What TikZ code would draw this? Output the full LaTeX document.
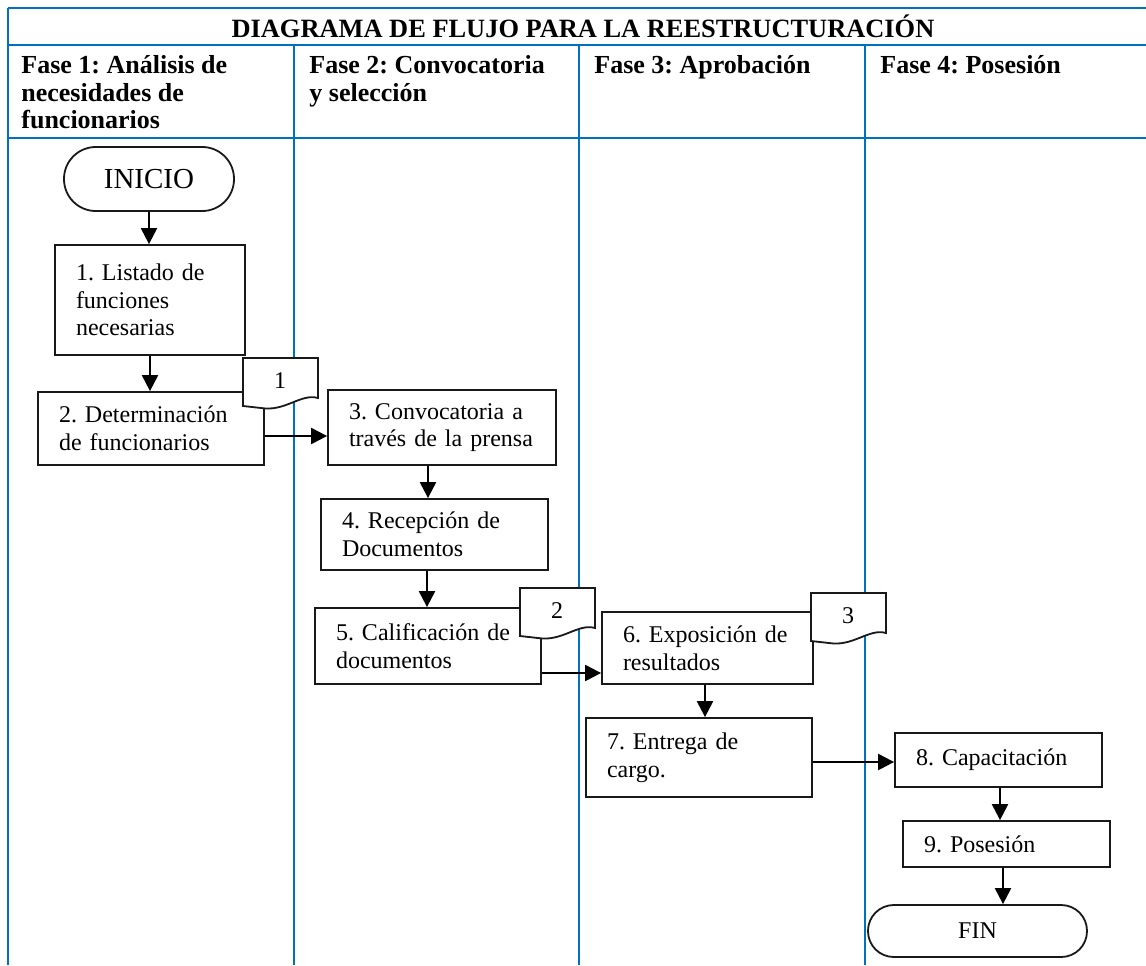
\documentclass[tikz,border=0pt]{standalone}
\usepackage{fontspec}
\setmainfont{Liberation Serif}
\usetikzlibrary{
    arrows.meta,
    calc,
    positioning
}
\frenchspacing
\definecolor{laneblue}{RGB}{0,112,192}
\tikzset{
    lane/.style={draw=laneblue, line width=1pt},
    hdr/.style={anchor=north west, inner sep=0pt, align=left,
        font=\bfseries\fontsize{13}{13.8}\selectfont},
    proc/.style={draw=black!90, line width=0.9pt, fill=white, inner xsep=10.5pt,
        inner ysep=0pt, align=left, font=\fontsize{12}{13.8}\selectfont},
    term/.style={draw=black!90, line width=0.9pt, fill=white, align=center},
    flow/.style={-{Triangle[length=8pt,width=8pt]}, line width=1.1pt},
    docmark/.pic={
        \draw[fill=white, draw=black!90, line width=0.9pt]
            (0,0) -- (75,0) -- (75,40) .. controls (58,35) and (42,54) .. (18,50)
            -- (0,48) -- cycle;
        \node[font=\fontsize{12}{14}\selectfont] (-lbl) at (37,23) {#1};
    }
}

\begin{document}
\begin{tikzpicture}[x=0.5pt, y=-0.5pt]
                    \useasboundingbox (0,0) rectangle (1146,965);
                    % lanes
                    \draw[lane] (8,8) -- (1146,8);
                    \draw[lane] (8,45) -- (1146,45);
                    \draw[lane] (8,138) -- (1146,138);
                    \draw[lane] (8,8) -- (8,965);
                    \foreach \x in {294,579,865}
                        \draw[lane] (\x,45) -- (\x,965);
                    \node[font=\bfseries\fontsize{13.2}{14}\selectfont] (title) at (583,26)
                        {DIAGRAMA DE FLUJO PARA LA REESTRUCTURACIÓN};
                    \node[hdr] (h1) at (21,55) {Fase 1: Análisis de\\necesidades de\\funcionarios};
                    \node[hdr] (h2) at (309,55) {Fase 2: Convocatoria\\y selección};
                    \node[hdr] (h3) at (594,55) {Fase 3: Aprobación};
                    \node[hdr] (h4) at (880,55) {Fase 4: Posesión};
                    % steps
                    \node[term, minimum width=85pt, minimum height=32pt, rounded corners=15.9pt,
                        font=\fontsize{14.5}{16}\selectfont] (inicio) at (149,179) {INICIO};
                    \node[proc, text width=74pt, minimum height=55pt] (b1) at (150,300)
                        {1. Listado de\\funciones\\necesarias};
                    \node[proc, text width=92pt, minimum height=36.5pt] (b2) at (151,428.5)
                        {2. Determinación\\de funcionarios};
                    \node[proc, text width=93pt, minimum height=37.5pt] (b3) at (442,427.5)
                        {3. Convocatoria a\\través de la prensa};
                    \node[proc, text width=92.5pt, minimum height=35.5pt] (b4) at (434.5,534.5)
                        {4. Recepción de\\Documentos};
                    \node[proc, text width=92pt, minimum height=38pt] (b5) at (428,646)
                        {5. Calificación de\\documentos};
                    \node[proc, text width=84.5pt, minimum height=36pt] (b6) at (707.5,648)
                        {6. Exposición de\\resultados};
                    \node[proc, text width=92pt, minimum height=39.5pt] (b7) at (699,757.5)
                        {7. Entrega de\\cargo.};
                    \node[proc, text width=82.5pt, minimum height=27pt] (b8) at (998.5,760)
                        {8. Capacitación};
                    \node[proc, text width=82.5pt, minimum height=23pt] (b9) at (1006.5,844)
                        {9. Posesión};
                    \node[term, minimum width=109.5pt, minimum height=26pt, rounded corners=12.9pt,
                        font=\fontsize{12}{14}\selectfont] (fin) at (977.5,931) {FIN};
                    % connectors
                    \draw[flow] (inicio.south) -- (inicio.south |- b1.north);
                    \draw[flow] (b1.south) -- (b1.south |- b2.north);
                    \draw[flow] ([yshift=-3.75pt]b2.east) -- ([yshift=-3.75pt]b2.east -| b3.west);
                    \draw[flow] ([xshift=-7pt]b3.south) -- ([xshift=-7pt]b3.south |- b4.north);
                    \draw[flow] ([xshift=-3.75pt]b4.south) -- ([xshift=-3.75pt]b4.south |- b5.north);
                    \draw[flow] ([yshift=-13.5pt]b5.east) -- ([yshift=-13.5pt]b5.east -| b6.west);
                    \draw[flow] ([xshift=-1.25pt]b6.south) -- ([xshift=-1.25pt]b6.south |- b7.north);
                    \draw[flow] ([yshift=-2.25pt]b7.east) -- ([yshift=-2.25pt]b7.east -| b8.west);
                    \draw[flow] ([xshift=0.75pt]b8.south) -- ([xshift=0.75pt]b8.south |- b9.north);
                    \draw[flow] ([xshift=-1.75pt]b9.south) -- ([xshift=-1.75pt]b9.south |- fin.north);
                    % document marks
                    \pic (d1) at (243,358) {docmark=1};
                    \pic (d2) at (520,588) {docmark=2};
                    \pic (d3) at (811,593) {docmark=3};
                \end{tikzpicture}
\end{document}
